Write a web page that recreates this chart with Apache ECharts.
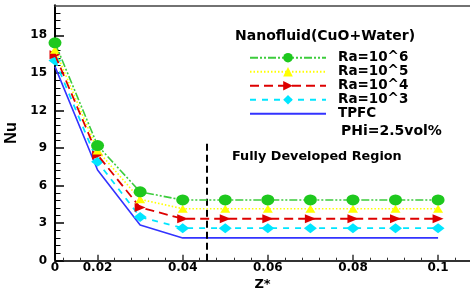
<!DOCTYPE html>
<html lang="en">
<head>
<meta charset="utf-8">
<title>Nu vs Z*</title>
<script src="https://cdn.jsdelivr.net/npm/echarts@6/dist/echarts.min.js"></script>
<style>
  html, body { margin: 0; padding: 0; background: #fff; }
  #chart { width: 470px; height: 291px; }
</style>
</head>
<body>
<div id="chart"></div>
<script>
// values
var zStar = [0.01, 0.02, 0.03, 0.04, 0.05, 0.06, 0.07, 0.08, 0.09, 0.1];
var ra6  = [17.4, 9.2, 5.5, 4.85, 4.85, 4.85, 4.85, 4.85, 4.85, 4.85];
var ra5  = [16.85, 8.8, 4.9, 4.15, 4.15, 4.15, 4.15, 4.15, 4.15, 4.15];
var ra4  = [16.45, 8.45, 4.25, 3.35, 3.35, 3.35, 3.35, 3.35, 3.35, 3.35];
var ra3  = [16.0, 7.9, 3.5, 2.6, 2.6, 2.6, 2.6, 2.6, 2.6, 2.6];
var tpfc = [15.5, 7.25, 2.85, 1.82, 1.82, 1.82, 1.82, 1.82, 1.82, 1.82];
var seriesNames = ['Ra=10^6', 'Ra=10^5', 'Ra=10^4', 'Ra=10^3', 'TPFC'];

// axis ticks / labels
var xLabelValues = [0.01, 0.02, 0.04, 0.06, 0.08, 0.1];
var xTickLabels  = ['0', '0.02', '0.04', '0.06', '0.08', '0.1'];
var xMajorTicks  = [0.02, 0.04, 0.06, 0.08, 0.1];
var xMinorTicks  = [0.012, 0.016, 0.024, 0.028, 0.032, 0.036, 0.044, 0.048, 0.052, 0.056,
                    0.064, 0.068, 0.072, 0.076, 0.084, 0.088, 0.092, 0.096, 0.104];
var yMinorTicks  = [0.6, 1.2, 1.8, 2.4, 3.6, 4.2, 4.8, 5.4, 6.6, 7.2, 7.8, 8.4, 9.6, 10.2, 10.8, 11.4,
                    12.6, 13.2, 13.8, 14.4, 15.6, 16.2, 16.8, 17.4, 18.6, 19.2, 19.8];

// fully developed divider
var dividerZ = 0.0456;
var dividerTop = 9.4;

function pairs(vals) {
  return zStar.map(function (z, i) { return [z, vals[i]]; });
}

var bold = "'DejaVu Sans', sans-serif";

var chart = echarts.init(document.getElementById('chart'), null, { renderer: 'canvas' });

var option = {
  animation: false,
  backgroundColor: '#fff',
  grid: { left: 55, right: 0, top: 5.3, bottom: 30.3, containLabel: false, outerBoundsMode: 'none' },
  xAxis: [
    {
      type: 'value', min: 0.01, max: 0.1075,
      name: 'Z*', nameLocation: 'middle', nameGap: 17,
      nameTextStyle: { fontFamily: bold, fontWeight: 'bold', fontSize: 13, color: '#000' },
      axisLine: { lineStyle: { color: '#333', width: 2 } },
      axisTick: { inside: true, length: 6, customValues: xMajorTicks, lineStyle: { color: '#333', width: 1.5 } },
      axisLabel: {
        customValues: xLabelValues, margin: 1,
        fontFamily: bold, fontWeight: 'bold', fontSize: 12, color: '#000',
        formatter: function (v) {
          for (var i = 0; i < xLabelValues.length; i++) {
            if (Math.abs(xLabelValues[i] - v) < 1e-6) return xTickLabels[i];
          }
          return '';
        }
      },
      splitLine: { show: false }
    },
    {
      type: 'value', min: 0.01, max: 0.1075, position: 'bottom',
      axisLine: { show: false },
      axisTick: { inside: true, length: 3, customValues: xMinorTicks, lineStyle: { color: '#333', width: 1 } },
      axisLabel: { show: false },
      splitLine: { show: false }
    },
    {
      type: 'value', min: 0.01, max: 0.1075, position: 'top',
      axisLine: { lineStyle: { color: '#444', width: 1.5 } },
      axisTick: { show: false }, axisLabel: { show: false }, splitLine: { show: false }
    }
  ],
  yAxis: [
    {
      type: 'value', min: 0, max: 20.4, interval: 3,
      name: 'Nu', nameLocation: 'middle', nameGap: 30,
      nameTextStyle: { fontFamily: "'Liberation Sans', sans-serif", fontWeight: 'bold', fontSize: 16, color: '#000' },
      axisLine: { show: true, lineStyle: { color: '#000', width: 2 } },
      axisTick: { inside: true, length: 9, lineStyle: { color: '#000', width: 1.5 } },
      axisLabel: { margin: 8, showMaxLabel: false, fontFamily: bold, fontWeight: 'bold', fontSize: 12, color: '#000' },
      splitLine: { show: false }
    },
    {
      type: 'value', min: 0, max: 20.4, position: 'left',
      axisLine: { show: false },
      axisTick: { show: true, inside: true, length: 5.5, customValues: yMinorTicks, lineStyle: { color: '#000', width: 1 } },
      axisLabel: { show: false },
      splitLine: { show: false }
    }
  ],
  legend: {
    left: 249, top: 50.7, orient: 'vertical', padding: 0,
    itemWidth: 76, itemHeight: 12, itemGap: 0,
    textStyle: { fontFamily: bold, fontWeight: 'bold', fontSize: 13.5, lineHeight: 12, color: '#000', padding: [0, 0, 0, 7] },
    data: [
      seriesNames[0], seriesNames[1], seriesNames[2], seriesNames[3],
      { name: seriesNames[4], itemStyle: { opacity: 0 } }
    ]
  },
  graphic: [
    { type: 'text', left: 235, top: 29, style: { text: 'Nanofluid(CuO+Water)', font: "bold 14px 'DejaVu Sans'", fill: '#000' } },
    { type: 'text', left: 341, top: 124, style: { text: 'PHi=2.5vol%', font: "bold 14px 'DejaVu Sans'", fill: '#000' } },
    { type: 'text', left: 232, top: 150, style: { text: 'Fully Developed Region', font: "bold 12.8px 'DejaVu Sans'", fill: '#000' } }
  ],
  series: [
    {
      name: seriesNames[0], type: 'line', data: pairs(ra6), z: 6,
      symbol: 'circle', symbolSize: [13, 11],
      itemStyle: { color: '#1ec81e' },
      lineStyle: { color: '#3ccc3c', width: 1.6, type: [8, 2, 2, 2, 2, 2] },
      markLine: {
        silent: true, symbol: 'none', label: { show: false },
        lineStyle: { color: '#000', width: 2, type: [7, 4] },
        data: [[{ coord: [dividerZ, 0] }, { coord: [dividerZ, dividerTop] }]]
      }
    },
    {
      name: seriesNames[1], type: 'line', data: pairs(ra5), z: 5,
      symbol: 'triangle', symbolSize: [10, 8],
      itemStyle: { color: '#ffff00' },
      lineStyle: { color: '#ffff00', width: 1.6, type: [1.5, 2] }
    },
    {
      name: seriesNames[2], type: 'line', data: pairs(ra4), z: 4,
      symbol: 'triangle', symbolSize: [9, 11], symbolRotate: -90,
      itemStyle: { color: '#dd0000' },
      lineStyle: { color: '#dd0000', width: 1.8, type: [9, 5] }
    },
    {
      name: seriesNames[3], type: 'line', data: pairs(ra3), z: 3,
      symbol: 'diamond', symbolSize: [13, 10],
      itemStyle: { color: '#00e6ff' },
      lineStyle: { color: '#00e6ff', width: 1.8, type: [6, 6] }
    },
    {
      name: seriesNames[4], type: 'line', data: pairs(tpfc), z: 2,
      symbol: 'none',
      itemStyle: { color: '#3333ff' },
      lineStyle: { color: '#3333ff', width: 1.6, type: 'solid' }
    }
  ]
};

chart.setOption(option);
</script>
</body>
</html>
